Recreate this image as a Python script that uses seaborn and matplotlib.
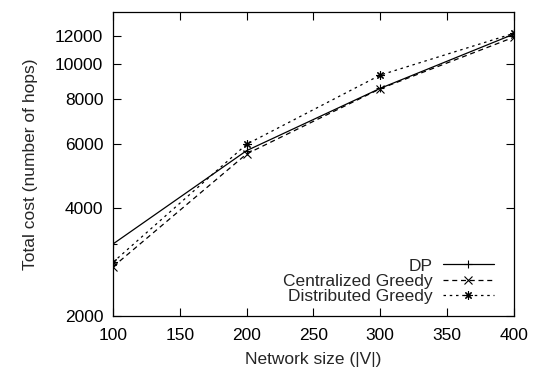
import pandas as pd
import matplotlib
matplotlib.use('Agg')
import matplotlib.pyplot as plt
import seaborn as sns

# values (log y axis)
network_size = [100, 200, 300, 400]
dp_cost = [3170, 5760, 8580, 12140]
central_cost = [2740, 5640, 8560, 11900]
distrib_cost = [2820, 6000, 9340, 12200]

x_ticks = [100, 150, 200, 250, 300, 350, 400]
y_ticks = [2000, 4000, 6000, 8000, 10000, 12000]

df = pd.DataFrame({
    'size': network_size * 3,
    'cost': dp_cost + central_cost + distrib_cost,
    'algo': ['DP'] * 4 + ['Centralized Greedy'] * 4 + ['Distributed Greedy'] * 4,
})

sns.set_style('ticks')
plt.rcParams['font.family'] = ['Liberation Sans', 'DejaVu Sans']
fs = 12.5

fig = plt.figure(figsize=(5.33, 3.7), dpi=100)
ax = fig.add_axes([0.212, 0.146, 0.752, 0.822])

styles = {
    'DP': dict(marker='+', ls='-'),
    'Centralized Greedy': dict(marker='x', ls=(0, (4, 3))),
    'Distributed Greedy': dict(marker=(8, 2, 0), ls=(0, (2, 3))),
}
for name in ['DP', 'Centralized Greedy', 'Distributed Greedy']:
    sub = df[df['algo'] == name]
    st = styles[name]
    sns.lineplot(data=sub, x='size', y='cost', ax=ax, color='black', lw=0.9,
                 linestyle=st['ls'], marker=st['marker'], markersize=6,
                 markeredgewidth=0.8, markeredgecolor='black', label=name)

ax.set_yscale('log')
ax.set_xlim(100, 400)
ax.set_ylim(2000, 14000)
ax.set_xticks(x_ticks)
ax.set_yticks(y_ticks)
ax.set_yticklabels([str(v) for v in y_ticks])
ax.minorticks_off()
ax.tick_params(direction='in', length=6, width=0.8, top=True, right=True,
               labelsize=fs, colors='black')
ax.tick_params(axis='y', pad=7)
ax.tick_params(axis='x', pad=9)
for sp in ax.spines.values():
    sp.set_visible(True)
    sp.set_linewidth(0.9)
    sp.set_color('black')

ax.set_xlabel('Network size (|V|)', fontsize=fs, labelpad=6)
ax.set_ylabel('Total cost (number of hops)', fontsize=fs, labelpad=12)

ax.legend(loc='lower right', frameon=False, markerfirst=False, fontsize=fs,
          handlelength=2.9, handletextpad=0.6, labelspacing=0.0,
          bbox_to_anchor=(0.98, 0.0), borderaxespad=0.3)

fig.savefig('out.png', dpi=100)
